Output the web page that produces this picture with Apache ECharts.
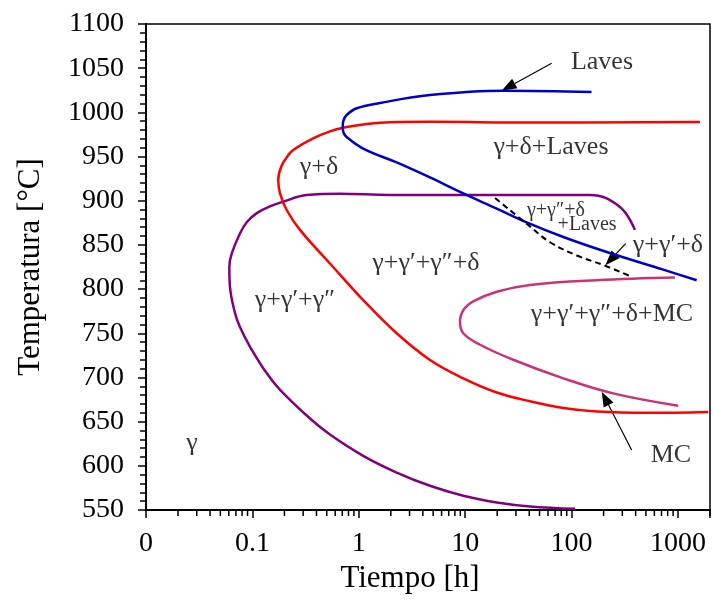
<!DOCTYPE html>
<html lang="es">
<head>
<meta charset="UTF-8">
<title>Diagrama TTT</title>
<script src="https://cdn.jsdelivr.net/npm/echarts@6/dist/echarts.min.js"></script>
<style>
  html, body { margin: 0; padding: 0; background: #fff; }
  #chart { width: 714px; height: 606px; }
</style>
</head>
<body>
<div id="chart"></div>
<script>
// [tiempo (h), temperatura (°C)]
const curvaGammaPrima = [
  [394, 867], [285, 893], [149, 906.5], [5.8, 906.5], [1.96, 906.5], [0.665, 908],
  [0.324, 906.5], [0.195, 899], [0.146, 893.5], [0.11, 886], [0.0889, 876], [0.0764, 863],
  [0.0639, 840], [0.0607, 825], [0.0615, 803], [0.0686, 773], [0.0764, 757], [0.0948, 735],
  [0.136, 705], [0.182, 686], [0.348, 653.5], [0.536, 635.4], [1.10, 611.3], [2.27, 592.4],
  [4.67, 577.4], [9.6, 566.1], [19.8, 558.5], [40.6, 554], [108, 551.3]
];
const curvaDelta = [
  [1610, 989], [40.6, 988.5], [4.67, 989.4], [1.58, 988.3], [0.714, 982.5], [0.536, 978.5],
  [0.373, 970.6], [0.242, 957.4], [0.2115, 949.5], [0.186, 938.2], [0.175, 923.5], [0.182, 908.4],
  [0.21, 889.5], [0.28, 867], [0.536, 829], [1.10, 787.6], [2.27, 750], [4.67, 719.8],
  [9.6, 699], [19.8, 683], [40.6, 673], [83.6, 665.5], [172, 661.5], [508, 660], [1927, 661]
];
const curvaLaves = [
  [154, 1023], [22.8, 1024.5], [4.67, 1019.6], [1.58, 1010.6], [0.955, 1004.6], [0.769, 997],
  [0.718, 990.8], [0.706, 983.8], [0.718, 977.2], [0.769, 972.1], [1.10, 959], [2.27, 943.3],
  [4.67, 926.3], [8.94, 910], [19.8, 891], [37.8, 875.5], [83.6, 859], [214, 842],
  [728, 822], [1500, 810]
];
const curvaMC = [
  [937, 813], [172, 810], [40.6, 804.6], [19.8, 797], [11.9, 786], [9.6, 776], [8.94, 763],
  [9.6, 750], [13.8, 737], [28.3, 720], [83.6, 699], [246, 682], [1006, 668]
];
const curvaDiscontinua = [
  [19.1, 903], [40.6, 871], [62.7, 853], [112, 838], [201, 827], [358, 814.5]
];
// flechas: [t inicio, T inicio, t punta, T punta]
const flechas = [
  [65, 1055.5, 22.0, 1024.5],
  [322, 851.5, 208, 826.9],
  [367, 617.9, 192, 683.9]
];
// etiquetas de las regiones: [tiempo, temperatura, texto]
const etiquetas = [
  [193, 1057, 'Laves'],
  [64, 961, 'γ+δ+Laves'],
  [0.423, 938, 'γ+δ'],
  [805, 850, 'γ+γ′+δ'],
  [4.28, 829.5, 'γ+γ′+γ″+δ'],
  [240, 772, 'γ+γ′+γ″+δ+MC'],
  [0.251, 787.6, 'γ+γ′+γ″'],
  [0.027, 626, 'γ'],
  [859, 612, 'MC']
];
const etiquetasPeq = [
  [71.3, 888.4, 'γ+γ″+δ'],
  [140, 872.5, '+Laves']
];
// marcas menores del eje logarítmico
const marcasMenores = [];
[0.01, 0.1, 1, 10, 100].forEach(d => {
  for (let k = 2; k <= 9; k++) marcasMenores.push(+(k * d).toPrecision(3));
});
marcasMenores.push(2000);

const fuente = "'Liberation Serif', 'Times New Roman', serif";
const chart = echarts.init(document.getElementById('chart'));

function curva(data, color) {
  return {
    type: 'line', data: data, smooth: 0.4, showSymbol: false, symbol: 'none',
    lineStyle: { color: color, width: 2.5 }
  };
}

function etiquetasSerie(data, size) {
  return {
    type: 'scatter', symbolSize: 1, itemStyle: { color: 'rgba(0,0,0,0)' },
    data: data,
    label: {
      show: true, position: 'inside', formatter: p => p.data[2],
      fontFamily: fuente, fontSize: size, color: '#000'
    }
  };
}

const option = {
  animation: false,
  grid: { left: 146, right: 4, top: 24, bottom: 96, show: true, borderColor: '#000', borderWidth: 1.5 },
  xAxis: {
    type: 'log', logBase: 10, min: 0.01, max: 2000,
    name: 'Tiempo [h]', nameLocation: 'middle', nameGap: 53,
    nameTextStyle: { fontFamily: fuente, fontSize: 31, color: '#000', padding: [0, 36, 0, 0] },
    axisLine: { lineStyle: { color: '#000', width: 2 } },
    axisTick: { length: 8, lineStyle: { color: '#000', width: 1.5 } },
    axisLabel: {
      fontFamily: fuente, fontSize: 28, color: '#000', margin: 20,
      formatter: v => v < 0.05 ? '0' : (v > 1500 ? '' : String(+v.toPrecision(3)))
    },
    splitLine: { show: false }
  },
  yAxis: {
    type: 'value', min: 550, max: 1100, interval: 50,
    name: 'Temperatura [°C]', nameLocation: 'middle', nameGap: 100, nameRotate: 90,
    nameTextStyle: { fontFamily: fuente, fontSize: 31, color: '#000' },
    axisLine: { show: true, lineStyle: { color: '#000', width: 2 } },
    axisTick: { show: true, length: 8, lineStyle: { color: '#000', width: 1.5 } },
    minorTick: { show: true, splitNumber: 5, length: 6, lineStyle: { color: '#000', width: 1.5 } },
    axisLabel: { fontFamily: fuente, fontSize: 28, color: '#000', margin: 22, formatter: v => String(v) },
    splitLine: { show: false }
  },
  series: [
    curva(curvaGammaPrima, '#800080'),
    curva(curvaDelta, '#ff0000'),
    curva(curvaMC, '#cc3377'),
    curva(curvaLaves, '#0000cc'),
    {
      type: 'line', data: curvaDiscontinua, smooth: 0.4, showSymbol: false, symbol: 'none',
      lineStyle: { color: '#000', width: 2, type: [6, 4] }
    },
    {
      type: 'custom', silent: true,
      data: flechas,
      encode: { x: [0, 2], y: [1, 3] },
      renderItem: (params, api) => {
        const a = api.coord([api.value(0), api.value(1)]);
        const b = api.coord([api.value(2), api.value(3)]);
        const ang = Math.atan2(b[1] - a[1], b[0] - a[0]);
        const L = 15, W = 5.5;
        const c = [b[0] - L * Math.cos(ang), b[1] - L * Math.sin(ang)];
        const nx = -Math.sin(ang), ny = Math.cos(ang);
        return {
          type: 'group',
          children: [
            { type: 'line', shape: { x1: a[0], y1: a[1], x2: c[0], y2: c[1] },
              style: { stroke: '#000', lineWidth: 1.2 } },
            { type: 'polygon',
              shape: { points: [b, [c[0] + W * nx, c[1] + W * ny], [c[0] - W * nx, c[1] - W * ny]] },
              style: { fill: '#000' } }
          ]
        };
      }
    },
    etiquetasSerie(etiquetas, 26),
    etiquetasSerie(etiquetasPeq, 20),
    {
      type: 'custom', clip: false, silent: true,
      data: marcasMenores.map(v => [v, 550]),
      renderItem: (params, api) => {
        const p = api.coord([api.value(0), api.value(1)]);
        return {
          type: 'line',
          shape: { x1: p[0], y1: p[1], x2: p[0], y2: p[1] + 6 },
          style: { stroke: '#000', lineWidth: 1.5 }
        };
      }
    }
  ]
};
chart.setOption(option);
window.addEventListener('resize', () => chart.resize());
</script>
</body>
</html>
